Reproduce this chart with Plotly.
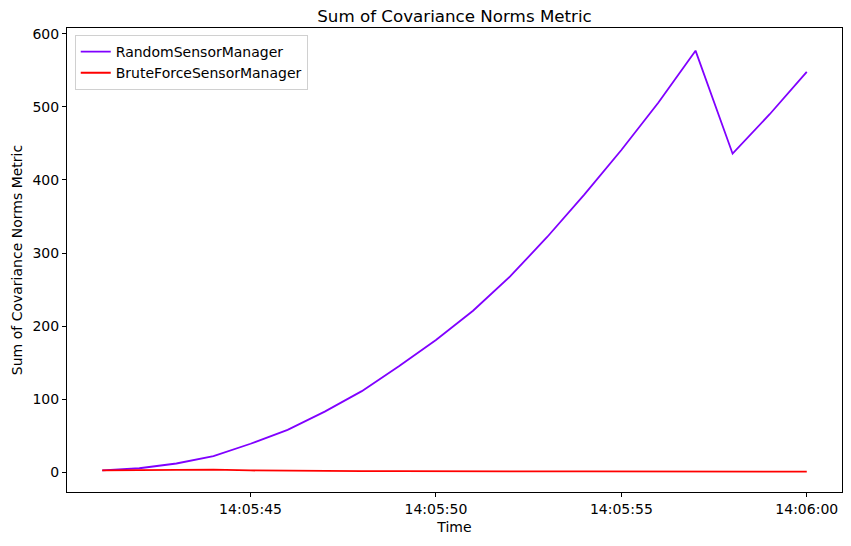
import plotly.graph_objects as go

times = ["2024-01-01 14:05:%02d" % s for s in range(41, 60)] + ["2024-01-01 14:06:00"]
random_vals = [2.5, 5.5, 12, 22, 39, 58, 83, 111, 145, 181, 221, 268, 322, 380, 441, 506, 577, 436, 490, 548]
brute_vals = [2.5, 2.7, 2.8, 3.5, 2.5, 2.0, 1.8, 1.5, 1.5, 1.2, 1.2, 1.2, 1.1, 1.1, 1.0, 0.9, 0.9, 0.9, 1.0, 1.0]
tick_times = ["2024-01-01 14:05:45", "2024-01-01 14:05:50", "2024-01-01 14:05:55", "2024-01-01 14:06:00"]
tick_text = ["14:05:45", "14:05:50", "14:05:55", "14:06:00"]

fig = go.Figure()
fig.add_trace(go.Scatter(x=times, y=random_vals, mode="lines", name="RandomSensorManager",
                         line=dict(color="#8000ff", width=1.8)))
fig.add_trace(go.Scatter(x=times, y=brute_vals, mode="lines", name="BruteForceSensorManager",
                         line=dict(color="#ff0000", width=1.8)))

font = "DejaVu Sans"
fig.update_layout(
    width=851, height=546,
    margin=dict(l=67, r=9, t=28, b=54),
    paper_bgcolor="white", plot_bgcolor="white",
    font=dict(family=font, size=14, color="black"),
    title=dict(text="Sum of Covariance Norms Metric", x=(67 + 842) / 2 / 851, xanchor="center",
               y=1 - 16 / 546, yanchor="middle", font=dict(size=16.7)),
    showlegend=True,
    legend=dict(x=0.01, y=0.985, xanchor="left", yanchor="top",
                bgcolor="rgba(255,255,255,0.8)", bordercolor="#d0d0d0", borderwidth=1,
                font=dict(size=14), tracegroupgap=0, itemwidth=30),
)
fig.update_xaxes(
    type="date",
    range=["2024-01-01 14:05:40.05", "2024-01-01 14:06:00.95"],
    tickvals=tick_times, ticktext=tick_text,
    showgrid=False, zeroline=False,
    showline=True, linecolor="black", linewidth=1, mirror=True,
    ticks="outside", ticklen=4, tickcolor="black",
    tickfont=dict(size=14),
    title=dict(text="Time", font=dict(size=14), standoff=6),
)
fig.update_yaxes(
    range=[-27, 608],
    tickvals=[0, 100, 200, 300, 400, 500, 600],
    showgrid=False, zeroline=False,
    showline=True, linecolor="black", linewidth=1, mirror=True,
    ticks="outside", ticklen=4, tickcolor="black",
    tickfont=dict(size=14),
    title=dict(text="Sum of Covariance Norms Metric", font=dict(size=14), standoff=6),
)

fig.write_html("out.html")
